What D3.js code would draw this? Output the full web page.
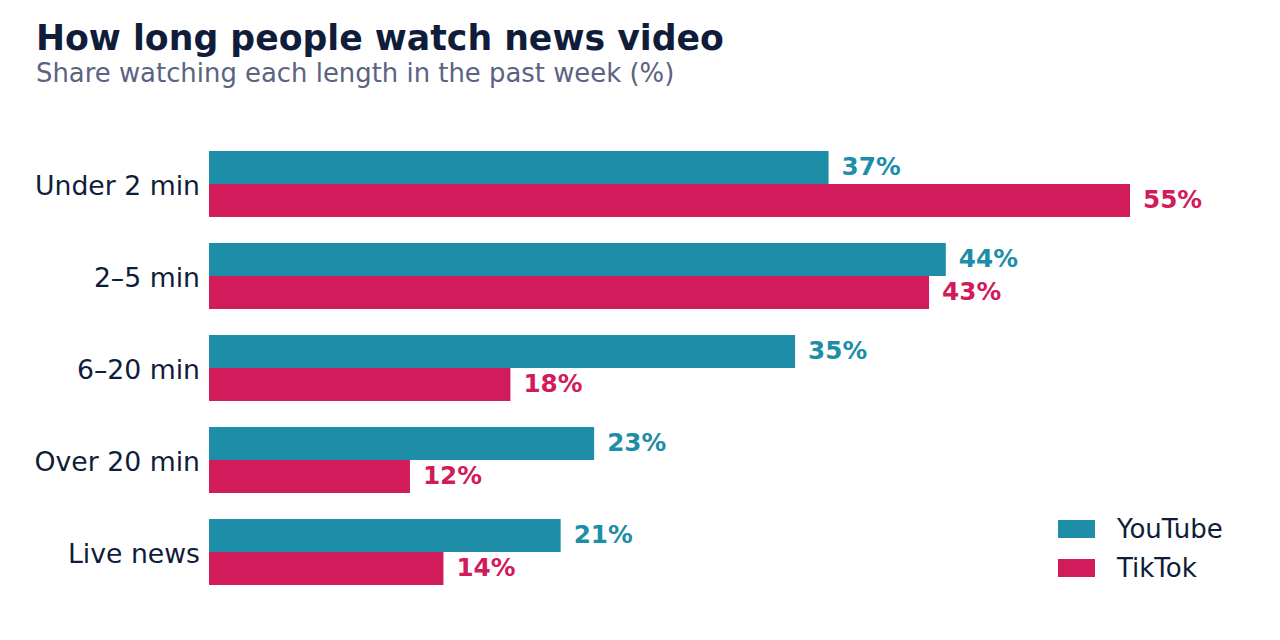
<!DOCTYPE html>
<html>
<head>
<meta charset="utf-8">
<script src="https://cdn.jsdelivr.net/npm/d3@7"></script>
<style>
  body { margin: 0; background: #fff; }
  svg { display: block; font-family: "DejaVu Sans", sans-serif; }
</style>
</head>
<body>
<svg id="chart"></svg>
<script>
const categories = ['Under 2 min', '2–5 min', '6–20 min', 'Over 20 min', 'Live news']
const platforms = ['YouTube', 'TikTok']
const youtube = [37, 44, 35, 23, 21]
const tiktok = [55, 43, 18, 12, 14]

const colors = {YouTube: '#1e8ea8', TikTok: '#d11b5b'}

const rows = categories.map((cat, i) => ({cat, YouTube: youtube[i], TikTok: tiktok[i]}))

const width = 1280
const height = 640
const margin = {top: 151, right: 150, bottom: 55, left: 209}

const svg = d3.select('svg#chart')
  .attr('viewBox', `0 0 ${width} ${height}`)
  .attr('width', width)
  .attr('height', height)

svg.append('text')
    .attr('x', 36).attr('y', 50)
    .attr('font-size', 34.7).attr('font-weight', 'bold')
    .attr('fill', '#0f1d3a')
    .text('How long people watch news video')

svg.append('text')
    .attr('x', 36).attr('y', 82)
    .attr('font-size', 25.9)
    .attr('fill', '#5b6380')
    .text('Share watching each length in the past week (%)')

const y = d3.scaleBand()
    .domain(categories)
    .range([margin.top, height - margin.bottom])
    .paddingInner(0.283)
    .paddingOuter(0)

const ySub = d3.scaleBand()
    .domain(platforms)
    .range([0, y.bandwidth()])

const x = d3.scaleLinear()
    .domain([0, 55])
    .range([margin.left, 1130])

const yAxis = g => g
    .attr('transform', `translate(${margin.left},2)`)
    .call(d3.axisLeft(y).tickSize(0).tickPadding(9))
    .call(g => g.select('.domain').remove())
    .call(g => g.selectAll('text')
      .attr('font-size', 26.7)
      .attr('font-family', '"DejaVu Sans", sans-serif')
      .attr('fill', '#0f1d3a'))

const g = svg.append('g')
  .selectAll('g')
  .data(rows)
  .join('g')
    .attr('transform', d => `translate(0,${y(d.cat)})`)

g.selectAll('rect')
  .data(d => platforms.map(p => ({p, v: d[p]})))
  .join('rect')
    .attr('x', x(0))
    .attr('y', d => ySub(d.p))
    .attr('width', d => x(d.v) - x(0))
    .attr('height', ySub.bandwidth())
    .attr('fill', d => colors[d.p])

g.selectAll('text.val')
  .data(d => platforms.map(p => ({p, v: d[p]})))
  .join('text')
    .attr('class', 'val')
    .attr('x', d => x(d.v) + 13)
    .attr('y', d => ySub(d.p) + ySub.bandwidth() / 2)
    .attr('dy', '0.3em')
    .attr('font-size', 24.7)
    .attr('font-weight', 'bold')
    .attr('fill', d => colors[d.p])
    .text(d => d.v + '%')

svg.append('g').call(yAxis)

const legend = svg.append('g')
  .selectAll('g')
  .data(platforms)
  .join('g')
    .attr('transform', (d, i) => `translate(1058,${520 + i * 39})`)

legend.append('rect')
    .attr('width', 37).attr('height', 18)
    .attr('fill', d => colors[d])

legend.append('text')
    .attr('x', 59).attr('y', 9).attr('dy', '0.36em')
    .attr('font-size', 26)
    .attr('fill', '#0f1d3a')
    .text(d => d)
</script>
</body>
</html>
